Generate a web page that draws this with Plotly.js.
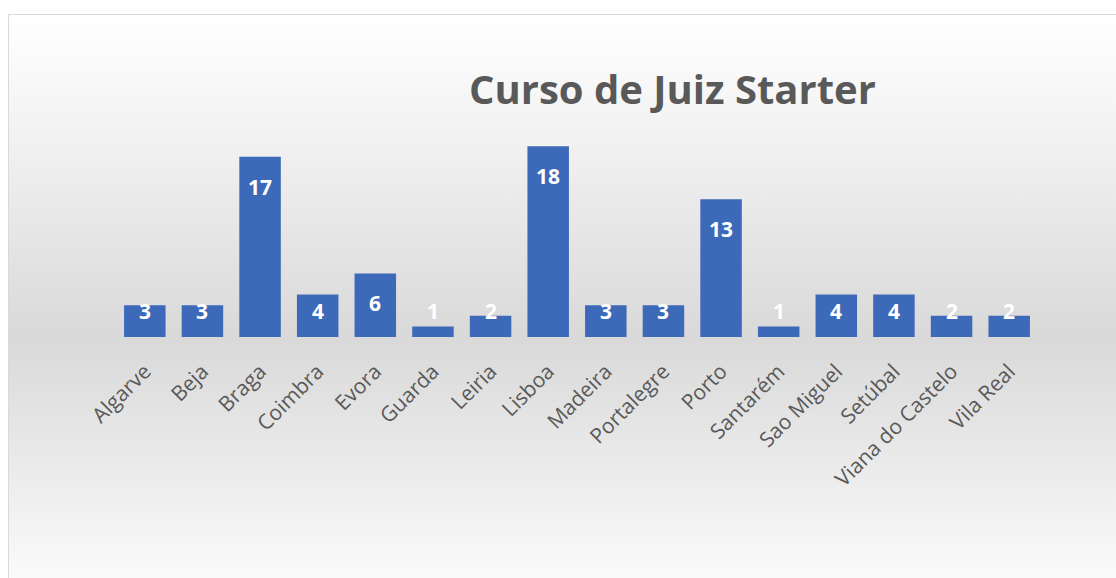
<!DOCTYPE html>
<html>
<head>
<meta charset="utf-8">
<script src="https://cdn.plot.ly/plotly-3.0.1.min.js"></script>
<style>
html,body{margin:0;padding:0;background:#fff;overflow:hidden;}
#bg{position:absolute;left:8px;top:14px;width:1120px;height:600px;border:1.5px solid #d9d9d9;box-sizing:border-box;
background:linear-gradient(to bottom,#ffffff 0%,#f2f2f2 20%,#d9d9d9 54%,#ebebeb 76%,#ffffff 100%);}
#chart{position:absolute;left:0;top:0;width:1116px;height:578px;}
</style>
</head>
<body>
<div id="bg"></div>
<div id="chart"></div>
<script>
const categories = ["Algarve","Beja","Braga","Coimbra","Evora","Guarda","Leiria","Lisboa","Madeira","Portalegre","Porto","Santarém","Sao Miguel","Setúbal","Viana do Castelo","Vila Real"];
const values = [3,3,17,4,6,1,2,18,3,3,13,1,4,4,2,2];
const chartTitle = "Curso de Juiz Starter";

const annotations = categories.map((c,i)=>({
  x: c, y: Math.max(values[i]-2.83, 2.45), xref:'x', yref:'y',
  text: '<b>'+String(values[i])+'</b>', showarrow:false, yanchor:'middle',
  font:{family:'"Open Sans", sans-serif', size:21, color:'#ffffff'}
}));

const trace = {
  type:'bar', x:categories, y:values,
  marker:{color:'#3d69b9', line:{width:0}},
  hoverinfo:'x+y'
};

const layout = {
  width:1116, height:578,
  paper_bgcolor:'rgba(0,0,0,0)', plot_bgcolor:'rgba(0,0,0,0)',
  margin:{l:116, r:78, t:125, b:241},
  bargap:0.28,
  title:{text:'<b>'+chartTitle+'</b>', x:0.6025, xanchor:'center', y:0.845, yanchor:'middle',
    font:{family:'"Open Sans", sans-serif', size:40, color:'#595959'}},
  xaxis:{type:'category', tickangle:-45, showline:false, showgrid:false, zeroline:false, ticks:'',
    ticklabelstandoff:17,
    tickfont:{family:'"Open Sans", sans-serif', size:21, color:'#595959'}, range:[-0.5,15.5], fixedrange:true},
  yaxis:{range:[0,20], visible:false, showgrid:false, zeroline:false, fixedrange:true},
  annotations:annotations,
  showlegend:false
};
Plotly.newPlot('chart',[trace],layout,{displayModeBar:false, staticPlot:true});
</script>
</body>
</html>
